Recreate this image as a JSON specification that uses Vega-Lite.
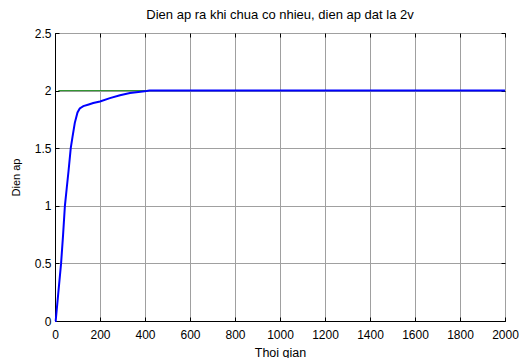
{
  "$schema": "https://vega.github.io/schema/vega-lite/v6.json",
  "width": 450,
  "height": 288,
  "autosize": {"type": "none"},
  "padding": {"left": 55, "top": 33, "right": 14, "bottom": 37},
  "background": "white",
  "title": {
    "text": "Dien ap ra khi chua co nhieu, dien ap dat la 2v",
    "font": "Liberation Sans",
    "fontSize": 13,
    "fontWeight": "normal",
    "color": "black",
    "offset": 5
  },
  "config": {
    "view": {"stroke": "black", "strokeWidth": 1},
    "axis": {
      "labelFont": "Liberation Sans",
      "labelFontSize": 12,
      "labelColor": "black",
      "titleFont": "Liberation Sans",
      "titleFontSize": 12,
      "titleFontWeight": "normal",
      "titleColor": "black",
      "domainColor": "black",
      "tickColor": "black",
      "gridColor": "#a0a0a0",
      "gridWidth": 1
    }
  },
  "datasets": {
    "out": [
      {"t": 0, "v": 0},
      {"t": 3, "v": 0},
      {"t": 15, "v": 0.25},
      {"t": 27, "v": 0.5},
      {"t": 36, "v": 0.75},
      {"t": 44, "v": 1.0},
      {"t": 52, "v": 1.15},
      {"t": 60, "v": 1.3},
      {"t": 70, "v": 1.5},
      {"t": 78, "v": 1.6},
      {"t": 88, "v": 1.72},
      {"t": 100, "v": 1.81},
      {"t": 110, "v": 1.845},
      {"t": 126, "v": 1.865},
      {"t": 150, "v": 1.88},
      {"t": 170, "v": 1.892},
      {"t": 200, "v": 1.905},
      {"t": 244, "v": 1.935},
      {"t": 289, "v": 1.96},
      {"t": 333, "v": 1.98},
      {"t": 380, "v": 1.99},
      {"t": 407, "v": 1.996},
      {"t": 420, "v": 2.0},
      {"t": 2000, "v": 2.0}
    ],
    "ref": [
      {"t": 15, "v": 2.0},
      {"t": 2000, "v": 2.0}
    ]
  },
  "layer": [
    {
      "data": {"name": "ref"},
      "mark": {"type": "line", "color": "#1e8c1e", "strokeWidth": 1},
      "encoding": {
        "x": {
          "field": "t", "type": "quantitative",
          "scale": {"domain": [0, 2000], "nice": false, "zero": false},
          "axis": {"orient": "top", "labels": false, "grid": false, "domain": false, "ticks": true, "tickSize": -4, "values": [0,200,400,600,800,1000,1200,1400,1600,1800,2000], "title": null}
        },
        "y": {
          "field": "v", "type": "quantitative",
          "scale": {"domain": [0, 2.5], "nice": false, "zero": false},
          "axis": {"orient": "right", "labels": false, "grid": false, "domain": false, "ticks": true, "tickSize": -4, "values": [0,0.5,1,1.5,2,2.5], "title": null}
        }
      }
    },
    {
      "data": {"name": "out"},
      "mark": {"type": "line", "color": "#0000ff", "strokeWidth": 2},
      "encoding": {
        "x": {
          "field": "t", "type": "quantitative",
          "scale": {"domain": [0, 2000], "nice": false, "zero": false},
          "axis": {"orient": "bottom", "grid": true, "tickSize": -4, "labelPadding": 12, "format": "d", "values": [0,200,400,600,800,1000,1200,1400,1600,1800,2000], "title": "Thoi gian", "titleFontSize": 12.5, "titlePadding": 6, "labelFlush": false}
        },
        "y": {
          "field": "v", "type": "quantitative",
          "scale": {"domain": [0, 2.5], "nice": false, "zero": false},
          "axis": {"orient": "left", "grid": true, "tickSize": -4, "labelPadding": 8, "format": "~g", "values": [0,0.5,1,1.5,2,2.5], "title": "Dien ap", "titleFontSize": 11, "titlePadding": 13, "labelFlush": false}
        }
      }
    }
  ],
  "resolve": {"axis": {"x": "independent", "y": "independent"}}
}
